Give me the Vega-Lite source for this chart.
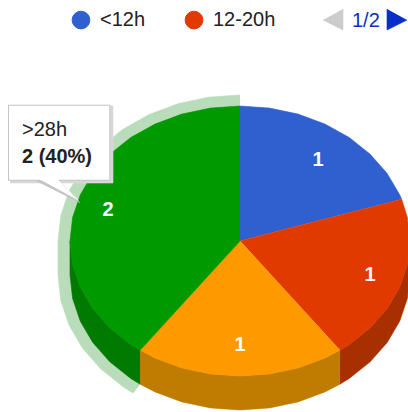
{"$schema":"https://vega.github.io/schema/vega-lite/v6.json","width":408,"height":412,"padding":0,"autosize":{"type":"none"},"background":"white","view":{"stroke":null},"config":{"font":"Liberation Sans"},
"datasets":{
"shapes":[
{"p":"ring","i":0,"x":0,"y":146},{"p":"ring","i":1,"x":-31.6,"y":143.8},{"p":"ring","i":2,"x":-62.2,"y":137.2},{"p":"ring","i":3,"x":-91,"y":126.4},{"p":"ring","i":4,"x":-117,"y":111.8},{"p":"ring","i":5,"x":-139.4,"y":93.8},{"p":"ring","i":6,"x":-157.6,"y":73},{"p":"ring","i":7,"x":-171,"y":49.9},{"p":"ring","i":8,"x":-179.2,"y":25.4},{"p":"ring","i":9,"x":-182,"y":0},{"p":"ring","i":10,"x":-182,"y":-34},{"p":"ring","i":11,"x":-179.2,"y":-59.4},{"p":"ring","i":12,"x":-171,"y":-83.9},{"p":"ring","i":13,"x":-157.6,"y":-107},{"p":"ring","i":14,"x":-139.4,"y":-127.8},{"p":"ring","i":15,"x":-117,"y":-145.8},{"p":"ring","i":16,"x":-107,"y":-152.1},{"p":"ring","i":17,"x":-100,"y":-143.2},{"p":"ring","i":18,"x":0,"y":0},
{"p":"wall red","i":0,"x":170,"y":0},{"p":"wall red","i":1,"x":167.4,"y":-23.4},{"p":"wall red","i":2,"x":159.7,"y":-46.2},{"p":"wall red","i":3,"x":147.2,"y":-67.5},{"p":"wall red","i":4,"x":130.2,"y":-86.8},{"p":"wall red","i":5,"x":109.3,"y":-103.4},{"p":"wall red","i":6,"x":99.9,"y":-109.2},{"p":"wall red","i":7,"x":99.9,"y":-143.2},{"p":"wall red","i":8,"x":109.3,"y":-137.4},{"p":"wall red","i":9,"x":130.2,"y":-120.8},{"p":"wall red","i":10,"x":147.2,"y":-101.5},{"p":"wall red","i":11,"x":159.7,"y":-80.2},{"p":"wall red","i":12,"x":167.4,"y":-57.4},{"p":"wall red","i":13,"x":170,"y":-34},
{"p":"wall orange","i":0,"x":99.9,"y":-109.2},{"p":"wall orange","i":1,"x":85,"y":-116.9},{"p":"wall orange","i":2,"x":58.1,"y":-126.9},{"p":"wall orange","i":3,"x":29.5,"y":-132.9},{"p":"wall orange","i":4,"x":0,"y":-135},{"p":"wall orange","i":5,"x":-29.5,"y":-132.9},{"p":"wall orange","i":6,"x":-58.1,"y":-126.9},{"p":"wall orange","i":7,"x":-85,"y":-116.9},{"p":"wall orange","i":8,"x":-99.9,"y":-109.2},{"p":"wall orange","i":9,"x":-99.9,"y":-143.2},{"p":"wall orange","i":10,"x":-85,"y":-150.9},{"p":"wall orange","i":11,"x":-58.1,"y":-160.9},{"p":"wall orange","i":12,"x":-29.5,"y":-166.9},{"p":"wall orange","i":13,"x":0,"y":-169},{"p":"wall orange","i":14,"x":29.5,"y":-166.9},{"p":"wall orange","i":15,"x":58.1,"y":-160.9},{"p":"wall orange","i":16,"x":85,"y":-150.9},{"p":"wall orange","i":17,"x":99.9,"y":-143.2},
{"p":"wall green","i":0,"x":-99.9,"y":-109.2},{"p":"wall green","i":1,"x":-109.3,"y":-103.4},{"p":"wall green","i":2,"x":-130.2,"y":-86.8},{"p":"wall green","i":3,"x":-147.2,"y":-67.5},{"p":"wall green","i":4,"x":-159.7,"y":-46.2},{"p":"wall green","i":5,"x":-167.4,"y":-23.4},{"p":"wall green","i":6,"x":-170,"y":0},{"p":"wall green","i":7,"x":-170,"y":-34},{"p":"wall green","i":8,"x":-167.4,"y":-57.4},{"p":"wall green","i":9,"x":-159.7,"y":-80.2},{"p":"wall green","i":10,"x":-147.2,"y":-101.5},{"p":"wall green","i":11,"x":-130.2,"y":-120.8},{"p":"wall green","i":12,"x":-109.3,"y":-137.4},{"p":"wall green","i":13,"x":-99.9,"y":-143.2},
{"p":"<12h","i":0,"x":0,"y":0},{"p":"<12h","i":1,"x":0,"y":135},{"p":"<12h","i":2,"x":29.5,"y":132.9},{"p":"<12h","i":3,"x":58.1,"y":126.9},{"p":"<12h","i":4,"x":85,"y":116.9},{"p":"<12h","i":5,"x":109.3,"y":103.4},{"p":"<12h","i":6,"x":130.2,"y":86.8},{"p":"<12h","i":7,"x":147.2,"y":67.5},{"p":"<12h","i":8,"x":159.7,"y":46.2},{"p":"<12h","i":9,"x":161.7,"y":41.7},
{"p":"12-20h","i":0,"x":0,"y":0},{"p":"12-20h","i":1,"x":161.7,"y":41.7},{"p":"12-20h","i":2,"x":167.4,"y":23.4},{"p":"12-20h","i":3,"x":170,"y":0},{"p":"12-20h","i":4,"x":167.4,"y":-23.4},{"p":"12-20h","i":5,"x":159.7,"y":-46.2},{"p":"12-20h","i":6,"x":147.2,"y":-67.5},{"p":"12-20h","i":7,"x":130.2,"y":-86.8},{"p":"12-20h","i":8,"x":109.3,"y":-103.4},{"p":"12-20h","i":9,"x":99.9,"y":-109.2},
{"p":"20-28h","i":0,"x":0,"y":0},{"p":"20-28h","i":1,"x":99.9,"y":-109.2},{"p":"20-28h","i":2,"x":85,"y":-116.9},{"p":"20-28h","i":3,"x":58.1,"y":-126.9},{"p":"20-28h","i":4,"x":29.5,"y":-132.9},{"p":"20-28h","i":5,"x":0,"y":-135},{"p":"20-28h","i":6,"x":-29.5,"y":-132.9},{"p":"20-28h","i":7,"x":-58.1,"y":-126.9},{"p":"20-28h","i":8,"x":-85,"y":-116.9},{"p":"20-28h","i":9,"x":-99.9,"y":-109.2},
{"p":">28h","i":0,"x":0,"y":0},{"p":">28h","i":1,"x":-99.9,"y":-109.2},{"p":">28h","i":2,"x":-109.3,"y":-103.4},{"p":">28h","i":3,"x":-130.2,"y":-86.8},{"p":">28h","i":4,"x":-147.2,"y":-67.5},{"p":">28h","i":5,"x":-159.7,"y":-46.2},{"p":">28h","i":6,"x":-167.4,"y":-23.4},{"p":">28h","i":7,"x":-170,"y":0},{"p":">28h","i":8,"x":-167.4,"y":23.4},{"p":">28h","i":9,"x":-159.7,"y":46.2},{"p":">28h","i":10,"x":-147.2,"y":67.5},{"p":">28h","i":11,"x":-130.2,"y":86.8},{"p":">28h","i":12,"x":-109.3,"y":103.4},{"p":">28h","i":13,"x":-85,"y":116.9},{"p":">28h","i":14,"x":-58.1,"y":126.9},{"p":">28h","i":15,"x":-29.5,"y":132.9},{"p":">28h","i":16,"x":0,"y":135},
{"p":"tip shadow","i":0,"x":-230,"y":135},{"p":"tip shadow","i":1,"x":-127,"y":135},{"p":"tip shadow","i":2,"x":-127,"y":58},{"p":"tip shadow","i":3,"x":-230,"y":58},
{"p":"tip border","i":0,"x":-232,"y":136},{"p":"tip border","i":1,"x":-130,"y":136},{"p":"tip border","i":2,"x":-130,"y":60.5},{"p":"tip border","i":3,"x":-232,"y":60.5},
{"p":"tail border","i":0,"x":-205,"y":60.5},{"p":"tail border","i":1,"x":-181,"y":60.5},{"p":"tail border","i":2,"x":-160,"y":38},
{"p":"tip box","i":0,"x":-231,"y":135},{"p":"tip box","i":1,"x":-131,"y":135},{"p":"tip box","i":2,"x":-131,"y":61.5},{"p":"tip box","i":3,"x":-231,"y":61.5},
{"p":"tail box","i":0,"x":-201,"y":62},{"p":"tail box","i":1,"x":-183,"y":62},{"p":"tail box","i":2,"x":-161.5,"y":40.5},
{"p":"prev","i":0,"x":103,"y":232},{"p":"prev","i":1,"x":103,"y":211},{"p":"prev","i":2,"x":83,"y":221},
{"p":"next","i":0,"x":147,"y":232},{"p":"next","i":1,"x":147,"y":211},{"p":"next","i":2,"x":167,"y":221}
],
"slices":[{"label":"<12h","value":1,"x":78,"y":81},{"label":"12-20h","value":1,"x":130,"y":-34},{"label":"20-28h","value":1,"x":0,"y":-104},{"label":">28h","value":2,"x":-132,"y":31}]
},
"resolve":{"scale":{"x":"shared","y":"shared"}},
"layer":[
{"data":{"name":"shapes"},"mark":{"type":"line","filled":true,"strokeWidth":0.6,"clip":true},
"encoding":{
"x":{"field":"x","type":"quantitative","scale":{"domain":[-240,168],"nice":false,"zero":false},"axis":null},
"y":{"field":"y","type":"quantitative","scale":{"domain":[-171,241],"nice":false,"zero":false},"axis":null},
"order":{"field":"i","type":"quantitative"},
"detail":{"field":"p"},
"fill":{"field":"p","type":"nominal","sort":null,"scale":{"domain":["<12h","12-20h","20-28h",">28h","ring","wall red","wall orange","wall green","tip shadow","tip border","tail border","tip box","tail box","prev","next"],"range":["#3060d0","#e03a00","#ff9900","#009900","#b9dcba","#a83000","#c07c00","#007a00","#d8d8d8","#c4c4c4","#c4c4c4","#ffffff","#ffffff","#cccccc","#0a2ec8"]},
"legend":{"orient":"none","legendX":71,"legendY":10,"values":["<12h","12-20h"],"columns":2,"columnPadding":37,"title":null,"symbolType":"circle","symbolSize":314,"symbolStrokeWidth":1,"labelFontSize":20,"labelFont":"Liberation Sans","labelColor":"#222222","labelOffset":9,"padding":0}},
"stroke":{"field":"p","type":"nominal","sort":null,"scale":{"domain":["<12h","12-20h","20-28h",">28h","ring","wall red","wall orange","wall green","tip shadow","tip border","tail border","tip box","tail box","prev","next"],"range":["#3060d0","#e03a00","#ff9900","#009900","#b9dcba","#a83000","#c07c00","#007a00","#d8d8d8","#c4c4c4","#c4c4c4","#ffffff","#ffffff","#cccccc","#0a2ec8"]},"legend":null}
}},
{"data":{"name":"slices"},"mark":{"type":"text","font":"Liberation Sans","fontSize":20,"fontWeight":"bold","color":"white"},
"encoding":{"x":{"field":"x","type":"quantitative"},"y":{"field":"y","type":"quantitative"},"text":{"field":"value","type":"nominal"}}},
{"data":{"values":[{"t":">28h","x":-218,"y":105}]},"mark":{"type":"text","font":"Liberation Sans","fontSize":20,"align":"left","baseline":"alphabetic","color":"#222222"},
"encoding":{"x":{"field":"x","type":"quantitative"},"y":{"field":"y","type":"quantitative"},"text":{"field":"t"}}},
{"data":{"values":[{"t":"2 (40%)","x":-218,"y":78}]},"mark":{"type":"text","font":"Liberation Sans","fontSize":20,"fontWeight":"bold","align":"left","baseline":"alphabetic","color":"#222222"},
"encoding":{"x":{"field":"x","type":"quantitative"},"y":{"field":"y","type":"quantitative"},"text":{"field":"t"}}},
{"data":{"values":[{"t":"1/2","x":112,"y":214}]},"mark":{"type":"text","font":"Liberation Sans","fontSize":20,"align":"left","baseline":"alphabetic","color":"#0a2ec8"},
"encoding":{"x":{"field":"x","type":"quantitative"},"y":{"field":"y","type":"quantitative"},"text":{"field":"t"}}}
]}
